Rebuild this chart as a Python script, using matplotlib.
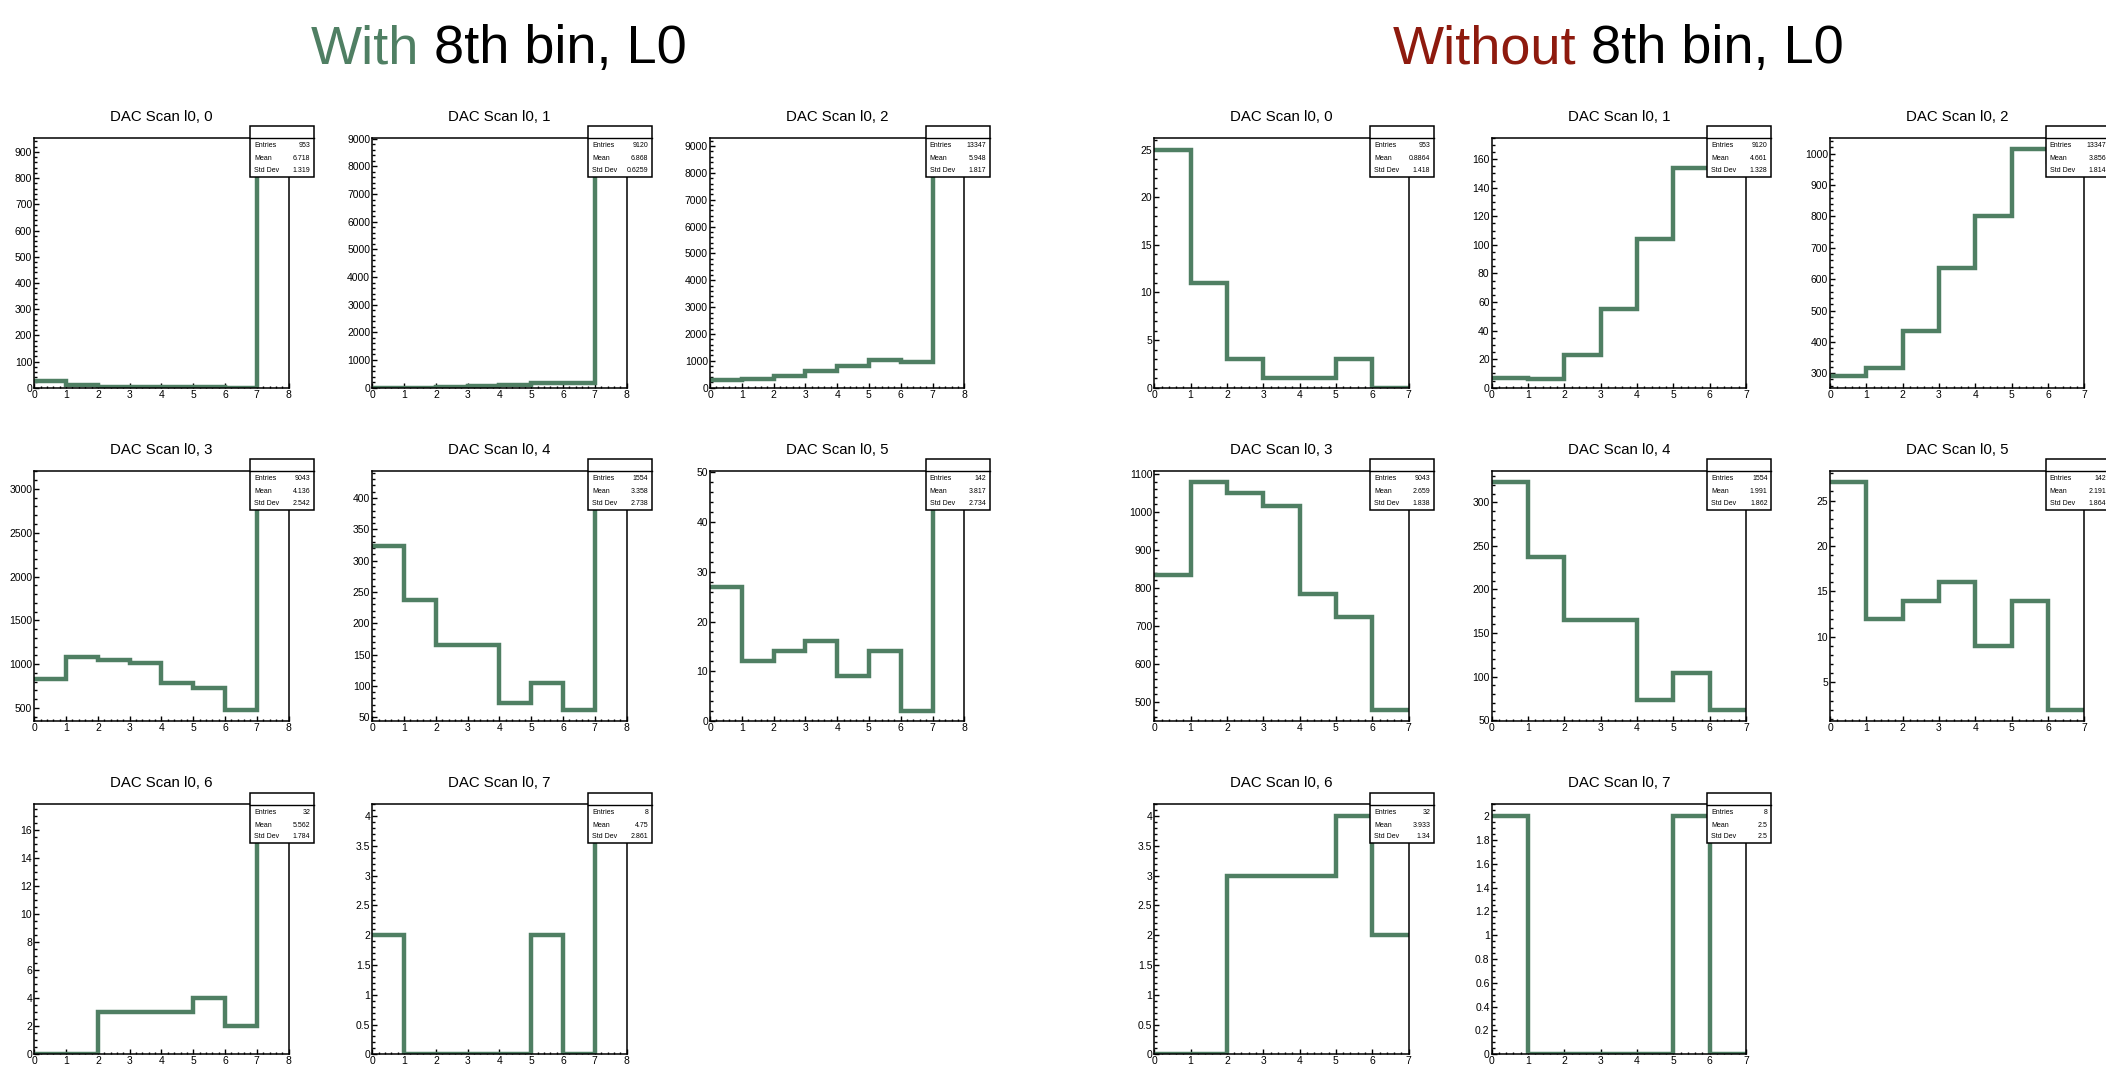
import matplotlib
matplotlib.use("Agg")
import matplotlib.pyplot as plt
from matplotlib.patches import Rectangle
from matplotlib.ticker import MultipleLocator, AutoMinorLocator, FuncFormatter
import numpy as np

plt.rcParams['font.family'] = ['Liberation Sans', 'DejaVu Sans']

# ---------------- data ----------------
panel_titles = ["DAC Scan l0, 0", "DAC Scan l0, 1", "DAC Scan l0, 2", "DAC Scan l0, 3",
                "DAC Scan l0, 4", "DAC Scan l0, 5", "DAC Scan l0, 6", "DAC Scan l0, 7"]

# counts per bin (bins 0..7); the "without" plots use the first 7 bins
counts_p0 = [25, 11, 3, 1, 1, 3, 0, 909]
counts_p1 = [7, 6, 23, 55, 104, 154, 167, 8604]
counts_p2 = [290, 316, 435, 635, 800, 1015, 975, 8881]
counts_p3 = [835, 1078, 1050, 1015, 785, 725, 480, 3075]
counts_p4 = [323, 237, 165, 165, 73, 104, 62, 425]
counts_p5 = [27, 12, 14, 16, 9, 14, 2, 48]
counts_p6 = [0, 0, 3, 3, 3, 4, 2, 17]
counts_p7 = [2, 0, 0, 0, 0, 2, 0, 4]
all_counts = [counts_p0, counts_p1, counts_p2, counts_p3,
              counts_p4, counts_p5, counts_p6, counts_p7]

entries = ["953", "9120", "13347", "9043", "1554", "142", "32", "8"]
mean_with = ["6.718", "6.868", "5.948", "4.136", "3.358", "3.817", "5.562", "4.75"]
std_with = ["1.319", "0.6259", "1.817", "2.542", "2.738", "2.734", "1.784", "2.861"]
mean_without = ["0.8864", "4.661", "3.856", "2.659", "1.991", "2.191", "3.933", "2.5"]
std_without = ["1.418", "1.328", "1.814", "1.838", "1.862", "1.864", "1.34", "2.5"]

# axis tick steps (style)
major_with = [100, 1000, 1000, 500, 50, 10, 2, 0.5]
minor_with = [5, 5, 5, 5, 5, 5, 4, 5]
major_without = [5, 20, 100, 100, 50, 5, 0.5, 0.2]
minor_without = [5, 4, 5, 5, 5, 5, 5, 4]

# ---------------- layout ----------------
W, H = 2106, 1066
fig = plt.figure(figsize=(W / 100, H / 100), dpi=100)
fig.patch.set_facecolor('white')

col_left_with = [34.3, 372.3, 710.0]
col_left_without = [1154.3, 1491.7, 1830.0]
row_top = [137.7, 471.0, 804.3]
ax_w, ax_h = 254.3, 250.0

LINE_COLOR = '#4f7f63'


def fmt(v, pos):
    v = round(v, 6)
    return '%g' % v


def make_panel(left, top, counts, title, ent, mean, std, major, nminor):
    ax = fig.add_axes([left / W, 1 - (top + ax_h) / H, ax_w / W, ax_h / H])
    vals = np.array(counts, dtype=float)
    nb = len(vals)
    edges = np.arange(nb + 1)
    ax.stairs(vals, edges, baseline=None, color=LINE_COLOR, linewidth=3.2, zorder=3)
    vmin, vmax = vals.min(), vals.max()
    rng = vmax - vmin
    ymin = vmin - 0.05 * rng
    if vmin >= 0 and ymin < 0:
        ymin = 0
    ymax = vmax + 0.05 * rng
    ax.set_xlim(0, nb)
    ax.set_ylim(ymin, ymax)
    ax.xaxis.set_major_locator(MultipleLocator(1))
    ax.xaxis.set_minor_locator(AutoMinorLocator(5))
    ax.yaxis.set_major_locator(MultipleLocator(major))
    ax.yaxis.set_minor_locator(AutoMinorLocator(nminor))
    ax.xaxis.set_major_formatter(FuncFormatter(fmt))
    ax.yaxis.set_major_formatter(FuncFormatter(fmt))
    ax.tick_params(which='both', direction='in', top=False, right=False,
                   labelsize=7.5, pad=1.5, width=1.0)
    ax.tick_params(which='major', length=3.4)
    ax.tick_params(which='minor', length=1.8)
    for s in ax.spines.values():
        s.set_linewidth(1.1)
        s.set_zorder(4)
    ax.text(0.5, 1 + 21 / ax_h, title, transform=ax.transAxes, ha='center',
            va='center', fontsize=10.8)
    # stat box
    bx0, bx1, by0, by1 = 0.848, 1.10, 0.844, 1.046
    ax.add_patch(Rectangle((bx0, by0), bx1 - bx0, by1 - by0, transform=ax.transAxes,
                           facecolor='white', edgecolor='black', linewidth=1.1,
                           clip_on=False, zorder=10))
    ax.plot([bx0, bx1], [0.998, 0.998], transform=ax.transAxes, color='black',
            linewidth=1.0, clip_on=False, zorder=11)
    for yy, lab, val in [(0.968, "Entries", ent), (0.916, "Mean", mean),
                         (0.870, "Std Dev", std)]:
        ax.text(0.864, yy, lab, transform=ax.transAxes, fontsize=5, ha='left',
                va='center', zorder=12, clip_on=False)
        ax.text(1.085, yy, val, transform=ax.transAxes, fontsize=5, ha='right',
                va='center', zorder=12, clip_on=False)
    return ax


for i in range(8):
    r, c = divmod(i, 3)
    make_panel(col_left_with[c], row_top[r], all_counts[i], panel_titles[i],
               entries[i], mean_with[i], std_with[i], major_with[i], minor_with[i])
    make_panel(col_left_without[c], row_top[r], all_counts[i][:7], panel_titles[i],
               entries[i], mean_without[i], std_without[i], major_without[i],
               minor_without[i])

# ---------------- main titles ----------------
fig.canvas.draw()
renderer = fig.canvas.get_renderer()


def two_color_title(cx, y, word, color, rest):
    t1 = fig.text(0, y, word, color=color, fontsize=39, va='baseline', ha='left')
    t2 = fig.text(0, y, rest, color='black', fontsize=39, va='baseline', ha='left')
    w1 = t1.get_window_extent(renderer).width
    w2 = t2.get_window_extent(renderer).width
    total = w1 + w2
    x0 = cx - total / 2
    t1.set_x(x0 / W)
    t2.set_x((x0 + w1) / W)


ybase = 1 - 63 / H
two_color_title(499, ybase, "With", '#4f7f63', " 8th bin, L0")
two_color_title(1618, ybase, "Without", '#8e1a0e', " 8th bin, L0")

fig.savefig("out.png", dpi=100, facecolor='white')
